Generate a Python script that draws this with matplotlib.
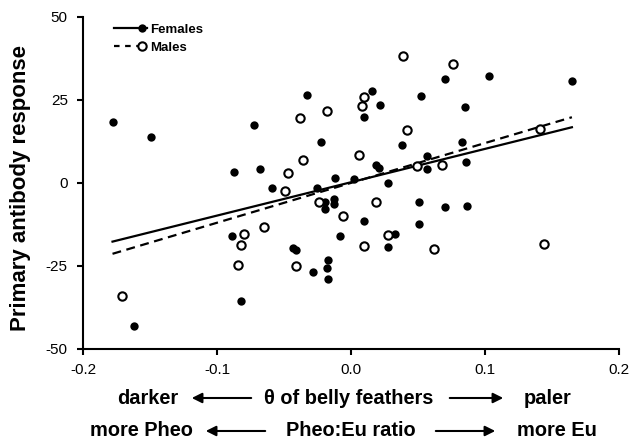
import numpy as np
import matplotlib
matplotlib.use('Agg')
import matplotlib.pyplot as plt
from matplotlib.lines import Line2D
from matplotlib.patches import FancyArrowPatch
from matplotlib.legend_handler import HandlerLine2D
from matplotlib.ticker import FuncFormatter

plt.rcParams['font.family'] = ['Liberation Sans', 'DejaVu Sans']

# theta of belly feathers vs primary antibody response
female_x = [-0.178, -0.149, -0.087, -0.068, -0.072, -0.033, -0.022, -0.012, 0.002,
            0.016, 0.022, 0.010, 0.052, 0.085, 0.070, 0.103, 0.165, 0.038, 0.083,
            0.019, 0.021, 0.057, 0.057, 0.086, -0.059, -0.025, -0.019, -0.019,
            -0.013, -0.013, -0.008, -0.162, -0.089, -0.082, -0.043, -0.041, -0.028,
            -0.017, -0.018, -0.017, 0.028, 0.051, 0.070, 0.087, 0.010, 0.051,
            0.033, 0.028]
female_y = [18.3, 13.7, 3.3, 4.2, 17.4, 26.4, 12.2, 1.4, 1.3,
            27.7, 23.6, 19.8, 26.1, 22.8, 31.2, 32.2, 30.6, 11.4, 12.3,
            5.4, 4.6, 8.0, 4.2, 6.3, -1.6, -1.6, -5.6, -7.9,
            -4.9, -6.2, -16.0, -43.1, -16.0, -35.7, -19.6, -20.2, -26.8,
            -23.2, -25.5, -28.8, -0.1, -5.8, -7.1, -6.9, -11.6, -12.3,
            -15.3, -19.2]
male_x = [-0.047, -0.036, -0.038, -0.018, 0.006, 0.039, 0.076, 0.010, 0.008,
          0.042, 0.049, 0.068, 0.141, -0.049, -0.024, -0.006, -0.171, -0.080,
          -0.082, -0.084, -0.065, -0.041, 0.019, 0.010, 0.028, 0.062, 0.144]
male_y = [3.0, 6.8, 19.6, 21.7, 8.4, 38.3, 35.8, 25.9, 23.1,
          15.9, 5.2, 5.5, 16.2, -2.4, -5.8, -10.1, -34.0, -15.4,
          -18.7, -24.6, -13.4, -25.1, -5.8, -19.0, -15.6, -19.9, -18.4]

# fitted regression lines (slope, intercept)
female_fit = [100.4, 0.2]
male_fit = [119.9, 0.0]


class MarkerAtEnd(HandlerLine2D):
    # legend entry: line with the marker sitting on its right end
    def create_artists(self, legend, orig_handle, xdescent, ydescent,
                       width, height, fontsize, trans):
        arts = super().create_artists(legend, orig_handle, xdescent, ydescent,
                                      width, height, fontsize, trans)
        line = arts[0]
        xd = list(line.get_xdata())
        yd = list(line.get_ydata())
        line.set_xdata([xd[0], xd[-1] - 3, xd[-1]])
        line.set_ydata([yd[0]] * 3)
        line.set_markevery([1])
        return arts


fig = plt.figure(figsize=(6.34, 4.44), dpi=100)
ax = fig.add_axes([0.131, 0.214, 0.845, 0.748])

ax.plot(female_x, female_y, 'o', color='black', ms=6, mew=0, zorder=3)
ax.plot(male_x, male_y, 'o', mfc='white', mec='black', ms=6, mew=1.5, zorder=3)

xs = np.array([min(female_x), max(female_x)])
ax.plot(xs, female_fit[0] * xs + female_fit[1], '-', color='black', lw=1.6)
ax.plot(xs, male_fit[0] * xs + male_fit[1], color='black', lw=1.6, dashes=(4, 2.5))

ax.set_xlim(-0.2, 0.2)
ax.set_ylim(-50, 50)
ax.set_xticks([-0.2, -0.1, 0.0, 0.1, 0.2])
ax.set_yticks([-50, -25, 0, 25, 50])
ax.xaxis.set_major_formatter(FuncFormatter(lambda v, p: '%.1f' % v if abs(v) > 1e-9 else '0.0'))
ax.yaxis.set_major_formatter(FuncFormatter(lambda v, p: '%d' % v))
for s in ['top', 'right']:
    ax.spines[s].set_visible(False)
for s in ['left', 'bottom']:
    ax.spines[s].set_linewidth(1.5)
ax.tick_params(direction='out', length=4, width=1.5, labelsize=11)
ax.tick_params(axis='x', pad=6)
ax.tick_params(axis='y', pad=7)
ax.set_ylabel('Primary antibody response', fontsize=16, fontweight='bold')
ax.yaxis.set_label_coords(-0.097, 0.485)

hf = Line2D([], [], color='black', lw=1.6, marker='o', ms=6, mew=0)
hm = Line2D([], [], color='black', lw=1.6, dashes=(2.5, 2.5), marker='o', mfc='white',
            mec='black', ms=6, mew=1.5)
ax.legend([hf, hm], ['Females', 'Males'], loc='upper left', bbox_to_anchor=(0.035, 1.015),
          frameon=False, numpoints=1, handlelength=2.5, handletextpad=0.3,
          labelspacing=0.4, prop={'weight': 'bold', 'size': 9.5},
          handler_map={Line2D: MarkerAtEnd()})


# bottom descriptive labels with arrows
def arrow(x0, x1, y):
    fig.add_artist(FancyArrowPatch(
        (x0, y), (x1, y), transform=fig.transFigure,
        arrowstyle='-|>,head_length=6,head_width=3', mutation_scale=1,
        color='black', lw=1.5))


tk = dict(fontsize=14.4, fontweight='bold', ha='center', va='center')
row1, row2 = 0.1036, 0.0293
fig.text(0.2326, row1, 'darker', **tk)
fig.text(0.5497, row1, 'θ of belly feathers', **tk)
fig.text(0.8636, row1, 'paler', **tk)
arrow(0.4006, 0.2981, row1)
arrow(0.7050, 0.7981, row1)

fig.text(0.2224, row2, 'more Pheo', **tk)
fig.text(0.5536, row2, 'Pheo:Eu ratio', **tk)
fig.text(0.8785, row2, 'more Eu', **tk)
arrow(0.4227, 0.3202, row2)
arrow(0.6830, 0.7855, row2)

fig.savefig('out.png', dpi=100)
